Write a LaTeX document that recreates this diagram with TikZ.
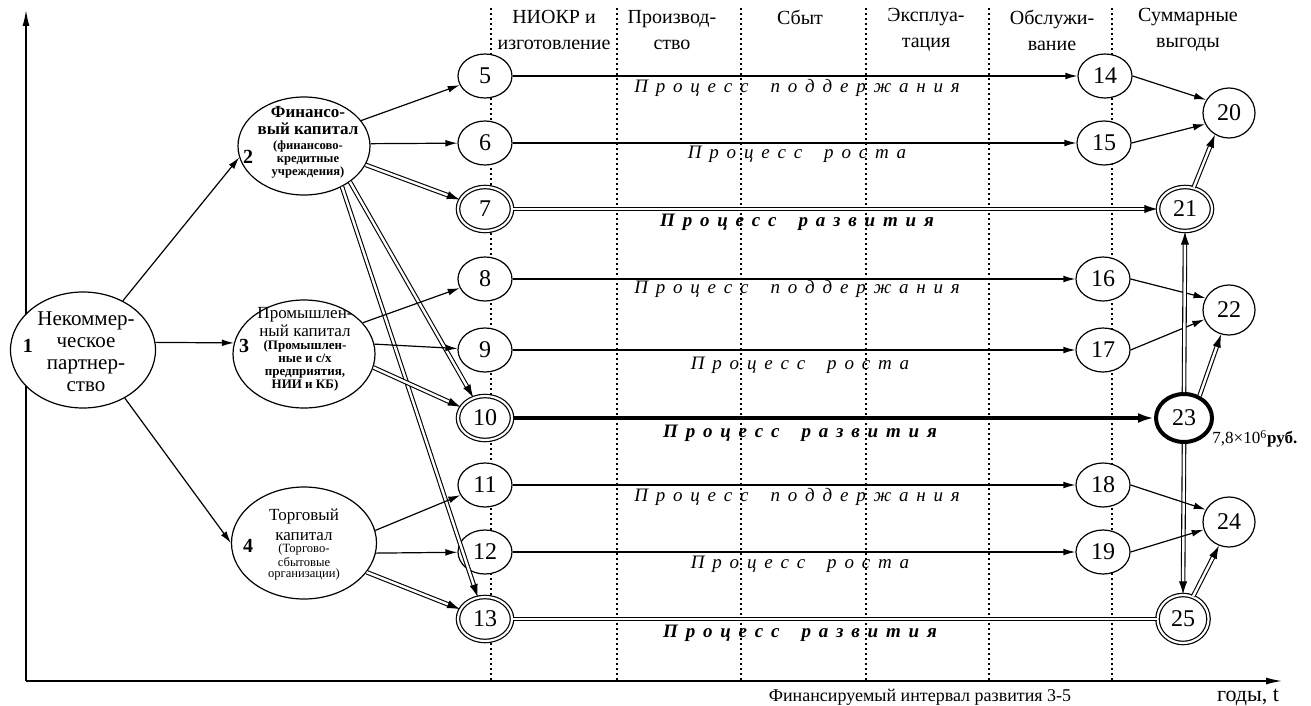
\documentclass[tikz,border=0pt]{standalone}
\usepackage{fontspec}
\setmainfont{Liberation Serif}
\usetikzlibrary{arrows.meta,shapes.geometric}

% letter-spaced words: a kern after every letter, the last one removed
\newlength\lspgap
\setlength\lspgap{3.9pt}
\def\lspword#1{\lspstep#1\relax}
\def\lspstep#1{\ifx#1\relax\unkern\else#1\kern\lspgap\expandafter\lspstep\fi}
\newcommand\proc[2]{\lspword{#1}\kern11pt\lspword{#2}}

\begin{document}
\begin{tikzpicture}[x=0.5pt,y=-0.5pt,
  every node/.style={inner sep=0pt},
  small/.style={ellipse,draw,fill=white,line width=0.6pt,minimum width=27pt,minimum height=22pt,font=\fontsize{12}{12}\selectfont},
  smalld/.style={small,double,double distance=1.1pt},
  result/.style={small,minimum width=26pt,minimum height=25pt},
  big/.style={ellipse,draw,fill=white,line width=0.6pt},
  thin/.style={line width=0.6pt},
  arr/.style={thin,-{Latex[length=6pt,width=3.4pt]}},
  dbl/.style={line width=0.55pt,double,double distance=1.2pt},
  darr/.style={dbl,-{Latex[length=6.5pt,width=4.2pt]}},
  heavy/.style={line width=1.7pt,-{Latex[length=8pt,width=5pt]}},
  grid/.style={line width=0.6pt,dash pattern=on 0.9pt off 1.6pt},
  hdr/.style={font=\fontsize{10}{13}\selectfont,align=center},
  num/.style={font=\fontsize{10}{10}\selectfont\bfseries},
  ptext/.style={font=\fontsize{9.5}{9.5}\selectfont\itshape},
  ptextb/.style={font=\fontsize{9.5}{9.5}\selectfont\bfseries\itshape},
]
\fill[white] (0,0) rectangle (1311,706);
\useasboundingbox (0,0) rectangle (1311,706);

% stage separators
\foreach \gx in {491,617,741,866,989,1112}
  \draw[grid] (\gx,8) -- (\gx,681);

% axes
\coordinate (org) at (26,681);
\coordinate (ytop) at (26,10);
\coordinate (xend) at (1282,681);
\draw[line width=0.7pt,-{Latex[length=8pt,width=3.5pt]}] (org) -- (ytop);
\draw[line width=0.7pt,-{Latex[length=8pt,width=3.5pt]}] (org) -- (xend);

% stage headings
\node[hdr] (h1) at (554,30) {НИОКР и\\изготовление};
\node[hdr] (h2) at (672,30) {Производ-\\ство};
\node[hdr] (h3) at (800,17) {Сбыт};
\node[hdr] (h4) at (926,30) {Эксплуа-\\тация};
\node[hdr] (h5) at (1052,30) {Обслужи-\\вание};
\node[hdr] (h6) at (1188,30) {Суммарные\\выгоды};

% capital sources
\node[big,minimum width=72.5pt,minimum height=58pt] (n1) at (83,350) {};
\node[big,minimum width=66pt,minimum height=49pt] (n2) at (304,146) {};
\node[big,minimum width=71pt,minimum height=54pt] (n3) at (304,354) {};
\node[big,minimum width=72.5pt,minimum height=56pt] (n4) at (304,543) {};

\node[font=\fontsize{10.5}{11}\selectfont,align=center] (t1) at (86,352) {Некоммер-\\ческое\\партнер-\\ство};
\node[num] (l1) at (28,346) {1};

\node[font=\fontsize{8.5}{8.5}\selectfont\bfseries,align=center] (t2a) at (308,121) {Финансо-\\вый капитал};
\node[font=\fontsize{6.3}{6.5}\selectfont\bfseries,align=center] (t2b) at (308,159) {(финансово-\\кредитные\\учреждения)};
\node[num] (l2) at (248,157) {2};

\node[font=\fontsize{8.5}{7.5}\selectfont,align=center] (t3a) at (305,322) {Промышлен-\\ный капитал};
\node[font=\fontsize{6.5}{6.4}\selectfont\bfseries,align=center] (t3b) at (305,366) {(Промышлен-\\ные и с/х\\предприятия,\\НИИ и КБ)};
\node[num] (l3) at (244,346) {3};

\node[font=\fontsize{8.5}{10}\selectfont,align=center] (t4a) at (304,525) {Торговый\\капитал};
\node[font=\fontsize{6.3}{5.8}\selectfont,align=center] (t4b) at (304,562) {(Торгово-\\сбытовые\\организации)};
\node[num] (l4) at (248,546) {4};

% start of the processes
\node[small]  (n5)  at (485,76)  {5};
\node[small]  (n6)  at (485,143) {6};
\node[smalld] (n7)  at (485,209) {7};
\node[small]  (n8)  at (485,279) {8};
\node[small]  (n9)  at (485,350) {9};
\node[smalld] (n10) at (485,418) {10};
\node[small]  (n11) at (485,485) {11};
\node[small]  (n12) at (485,552) {12};
\node[smalld] (n13) at (485,619) {13};

% end of the processes
\node[small] (n14) at (1105,76)  {14};
\node[small] (n15) at (1104,143) {15};
\node[small] (n16) at (1103,279) {16};
\node[small] (n17) at (1103,350) {17};
\node[small] (n18) at (1103,485) {18};
\node[small] (n19) at (1103,552) {19};

% total benefits
\node[result] (n20) at (1229,113) {20};
\node[smalld] (n21) at (1185,209) {21};
\node[result] (n22) at (1229,310) {22};
\node[small,line width=2pt,minimum width=28pt,minimum height=24pt] (n23) at (1184,418) {23};
\node[result] (n24) at (1229,522) {24};
\node[smalld,minimum width=25.5pt,minimum height=24pt] (n25) at (1183,619) {25};

\node[font=\fontsize{8.5}{8.5}\selectfont,anchor=west] (sum) at (1212,439) {7,8×10\textsuperscript{6}\textbf{руб.}};

% sources to capitals
\draw[arr] (n1.51) -- (n2.190);
\draw[arr] (n1.6) -- (n3.171);
\draw[arr] (n1.-49) -- (n4.180);

% capitals to processes
\draw[arr] (n2.24) -- (n5);
\draw[arr] (n2.2) -- (n6);
\draw[darr] (n2.-17) -- (n7);
\draw[darr] (n2.-38) -- (n10);
\draw[darr] (n2.-47) -- (n13);
\draw[arr] (n3.28) -- (n8);
\draw[arr] (n3.8) -- (n9);
\draw[darr] (n3.-11) -- (n10);
\draw[arr] (n4.10) -- (n11);
\draw[arr] (n4.-8) -- (n12);
\draw[darr] (n4.-25) -- (n13);

% processes
\draw[arr] (n5) -- (n14);
\draw[arr] (n6) -- (n15);
\draw[darr] (n7) -- (n21);
\draw[arr] (n8) -- (n16);
\draw[arr] (n9) -- (n17);
\draw[heavy] (n10) -- (n23);
\draw[arr] (n11) -- (n18);
\draw[arr] (n12) -- (n19);
\draw[dbl] (n13) -- (n25);

\node[ptext]  (p5)  at (797,88)  {\proc{Процесс}{поддержания}};
\node[ptext]  (p6)  at (797,154) {\proc{Процесс}{роста}};
\node[ptextb] (p7)  at (797,222) {\proc{Процесс}{развития}};
\node[ptext]  (p8)  at (797,289) {\proc{Процесс}{поддержания}};
\node[ptext]  (p9)  at (800,365) {\proc{Процесс}{роста}};
\node[ptextb] (p10) at (800,433) {\proc{Процесс}{развития}};
\node[ptext]  (p11) at (797,497) {\proc{Процесс}{поддержания}};
\node[ptext]  (p12) at (800,564) {\proc{Процесс}{роста}};
\node[ptextb] (p13) at (800,633) {\proc{Процесс}{развития}};

% benefits
\draw[arr] (n14.east) -- (n20.150);
\draw[arr] (n15.east) -- (n20.205);
\draw[darr] (n21.68) -- (n20.237);
\draw[arr] (n16.east) -- (n22.153);
\draw[arr] (n17.east) -- (n22.201);
\draw[darr] (n23.55) -- (n22.252);
\draw[darr] (n23.north) -- (n21.south);
\draw[darr] (n23.south) -- (n25.north);
\draw[arr] (n18.east) -- (n24.152);
\draw[arr] (n19.east) -- (n24.197);
\draw[darr] (n25.66) -- (n24.247);

% axis captions
\node[font=\fontsize{9}{9}\selectfont] (xcap) at (920,697) {Финансируемый интервал развития 3-5};
\node[font=\fontsize{11}{11}\selectfont] (tcap) at (1248,697) {годы, t};
\end{tikzpicture}
\end{document}
